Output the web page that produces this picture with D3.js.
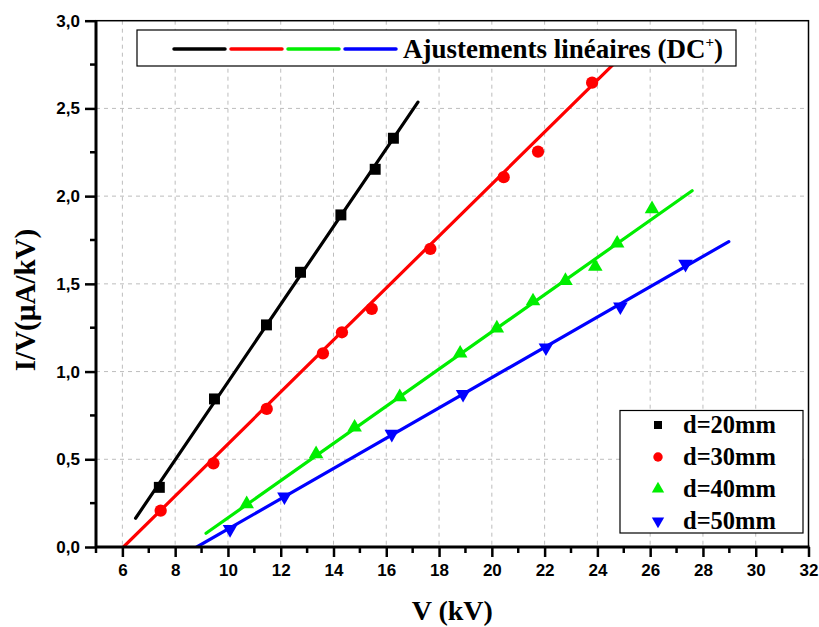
<!DOCTYPE html>
<html>
<head>
<meta charset="utf-8">
<script src="https://cdn.jsdelivr.net/npm/d3@7"></script>
<style>
  body { margin: 0; background: #fff; }
  svg { display: block; }
</style>
</head>
<body>
<svg width="819" height="627"></svg>
<script>
let svg = d3.select("svg");

// measured points, V (kV) vs I/V (uA/kV)
let d20 = [[7.40, 0.340], [9.49, 0.844], [11.46, 1.266], [12.75, 1.566], [14.28, 1.893], [15.58, 2.153], [16.27, 2.330]];
let d30 = [[7.45, 0.207], [9.45, 0.477], [11.47, 0.787], [13.60, 1.104], [14.32, 1.224], [15.45, 1.357],
  [17.67, 1.699], [20.45, 2.108], [21.75, 2.254], [23.80, 2.647]];
let d40 = [[10.71, 0.245], [13.34, 0.530], [14.80, 0.682], [16.51, 0.855], [18.80, 1.104], [20.19, 1.247],
  [21.56, 1.402], [22.79, 1.518], [23.92, 1.598], [24.75, 1.731], [26.07, 1.927]];
let d50 = [[10.08, 0.101], [12.14, 0.287], [16.21, 0.644], [18.91, 0.871], [22.05, 1.136], [24.87, 1.370], [27.34, 1.613]];

// ends of the linear fits
let fit20 = [[6.5, 0.164], [17.2, 2.536]];
let fit30 = [[6.04, 0.0], [25.5, 2.884]];
let fit40 = [[9.17, 0.078], [27.59, 2.031]];
let fit50 = [[8.82, 0.0], [28.98, 1.741]];

let names = ["d=20mm", "d=30mm", "d=40mm", "d=50mm"];
let colors = ["#000000", "#ff0000", "#00ee00", "#0000ff"];
let xTicks = d3.range(6, 33, 2);
let yTicks = [0, 0.5, 1, 1.5, 2, 2.5, 3];
let fmt = (d) => d3.format(".1f")(d).replace(".", ",");

let aux = { left: 96, right: 808.5, top: 20.7, bottom: 547 };

let x = d3.scaleLinear().domain([5, 32]).range([aux.left, aux.right]);
let y = d3.scaleLinear().domain([0, 3]).range([aux.bottom, aux.top]);

// grid
let grid = svg.append("g").attr("stroke", "#bdbdbd").attr("stroke-width", 1).attr("stroke-dasharray", "4,4");
grid.selectAll(".gx").data(xTicks.filter((d) => d < 32)).join("line")
  .attr("x1", (d) => x(d)).attr("x2", (d) => x(d))
  .attr("y1", aux.top).attr("y2", aux.bottom);
grid.selectAll(".gy").data(yTicks.filter((d) => d > 0 && d < 3)).join("line")
  .attr("y1", (d) => y(d)).attr("y2", (d) => y(d))
  .attr("x1", aux.left).attr("x2", aux.right);

// frame
svg.append("rect")
  .attr("x", aux.left).attr("y", aux.top)
  .attr("width", aux.right - aux.left).attr("height", aux.bottom - aux.top)
  .attr("fill", "none").attr("stroke", "#000").attr("stroke-width", 1.5);

svg.append("clipPath").attr("id", "clip").append("rect")
  .attr("x", aux.left).attr("y", aux.top)
  .attr("width", aux.right - aux.left).attr("height", aux.bottom - aux.top);

let plot = svg.append("g").attr("clip-path", "url(#clip)");

let line = d3.line().x((d) => x(d[0])).y((d) => y(d[1]));
[fit20, fit30, fit40, fit50].forEach((f, i) => {
  plot.append("path").attr("d", line(f))
    .attr("fill", "none").attr("stroke", colors[i]).attr("stroke-width", 3.2)
    .attr("stroke-linecap", "round");
});

let symbols = [
  d3.symbol(d3.symbolSquare, 120),
  d3.symbol(d3.symbolCircle, 118),
  d3.symbol(d3.symbolTriangle, 92),
  d3.symbol(d3.symbolTriangle, 92),
];
let rot = [0, 0, 0, 180];

[d20, d30, d40, d50].forEach((s, i) => {
  svg.append("g").selectAll("path").data(s).join("path")
    .attr("d", symbols[i])
    .attr("transform", (d) => `translate(${x(d[0])},${y(d[1])}) rotate(${rot[i]})`)
    .attr("fill", colors[i]);
});

// axes
let xAxis = svg.append("g").attr("transform", `translate(0,${aux.bottom})`)
  .call(d3.axisBottom(x).tickValues(xTicks).tickFormat(d3.format("d")).tickSize(10).tickPadding(7));
let yAxis = svg.append("g").attr("transform", `translate(${aux.left},0)`)
  .call(d3.axisLeft(y).tickValues(yTicks).tickFormat(fmt).tickSize(11).tickPadding(5));

[xAxis, yAxis].forEach((a) => {
  a.select(".domain").remove();
  a.selectAll("line").attr("stroke", "#000").attr("stroke-width", 2.5);
  a.selectAll("text").attr("fill", "#000")
    .attr("font-family", "Liberation Sans, Arial, sans-serif")
    .attr("font-weight", "bold").attr("font-size", 17);
});

// minor ticks
svg.append("g").selectAll("line").data(d3.range(5, 32, 2)).join("line")
  .attr("x1", (d) => x(d)).attr("x2", (d) => x(d))
  .attr("y1", aux.bottom).attr("y2", aux.bottom + 6)
  .attr("stroke", "#000").attr("stroke-width", 2.5);
svg.append("g").selectAll("line").data([0.25, 0.75, 1.25, 1.75, 2.25, 2.75]).join("line")
  .attr("y1", (d) => y(d)).attr("y2", (d) => y(d))
  .attr("x1", aux.left).attr("x2", aux.left - 6)
  .attr("stroke", "#000").attr("stroke-width", 2.5);

// axis lines
svg.append("line").attr("x1", aux.left - 1).attr("x2", aux.right + 1)
  .attr("y1", aux.bottom).attr("y2", aux.bottom)
  .attr("stroke", "#000").attr("stroke-width", 3);
svg.append("line").attr("x1", aux.left).attr("x2", aux.left)
  .attr("y1", aux.top).attr("y2", aux.bottom + 1)
  .attr("stroke", "#000").attr("stroke-width", 3);

// axis titles
let serif = "Liberation Serif, Times New Roman, serif";
svg.append("text").attr("x", (aux.left + aux.right) / 2).attr("y", 620)
  .attr("text-anchor", "middle").attr("font-family", serif)
  .attr("font-weight", "bold").attr("font-size", 28).text("V (kV)");
svg.append("text").attr("transform", "translate(35,300) rotate(-90)")
  .attr("text-anchor", "middle").attr("font-family", serif)
  .attr("font-weight", "bold").attr("font-size", 29).text("I/V(µA/kV)");

// top legend (fits)
let lg1 = svg.append("g");
lg1.append("rect").attr("x", 137).attr("y", 30).attr("width", 599).attr("height", 36)
  .attr("fill", "#fff").attr("stroke", "#000").attr("stroke-width", 1.2);
colors.forEach((c, i) => {
  lg1.append("line").attr("x1", 174 + i * 57).attr("x2", 225 + i * 57)
    .attr("y1", 49).attr("y2", 49)
    .attr("stroke", c).attr("stroke-width", 3.5).attr("stroke-linecap", "round");
});
let t1 = lg1.append("text").attr("x", 403).attr("y", 58)
  .attr("font-family", serif).attr("font-weight", "bold").attr("font-size", 27);
t1.append("tspan").text("Ajustements linéaires (DC");
t1.append("tspan").attr("font-size", 15).attr("dy", -11).text("+");
t1.append("tspan").attr("dy", 11).text(")");

// bottom legend (points)
let lg2 = svg.append("g");
lg2.append("rect").attr("x", 620).attr("y", 410.5).attr("width", 183).attr("height", 122.5)
  .attr("fill", "#fff").attr("stroke", "#000").attr("stroke-width", 1.2);
let lsym = [
  d3.symbol(d3.symbolSquare, 64),
  d3.symbol(d3.symbolCircle, 70),
  d3.symbol(d3.symbolTriangle, 66),
  d3.symbol(d3.symbolTriangle, 66),
];
names.forEach((n, i) => {
  let yy = 425 + i * 32;
  lg2.append("path").attr("d", lsym[i])
    .attr("transform", `translate(658,${yy}) rotate(${rot[i]})`)
    .attr("fill", colors[i]);
  lg2.append("text").attr("x", 683).attr("y", yy + 8)
    .attr("font-family", serif).attr("font-weight", "bold").attr("font-size", 24.5)
    .text(n);
});
</script>
</body>
</html>
